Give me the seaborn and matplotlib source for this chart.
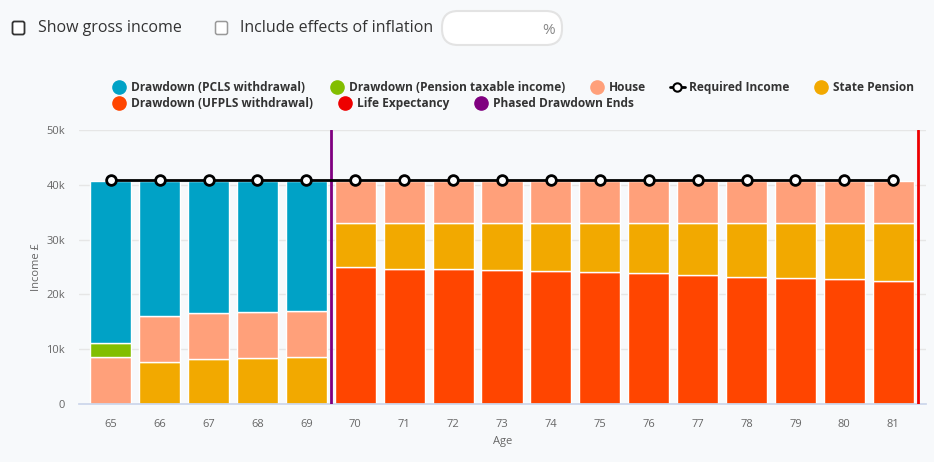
import numpy as np
import pandas as pd
import seaborn as sns
import matplotlib.pyplot as plt
from matplotlib.patches import FancyBboxPatch
from matplotlib.lines import Line2D

# values in thousands of pounds
ages = list(range(65, 82))
ufpls = [0, 0, 0, 0, 0, 24.95, 24.7, 24.6, 24.45, 24.2, 24.05, 23.85, 23.55, 23.25, 23.0, 22.75, 22.4]
state_pension = [0, 7.7, 8.15, 8.35, 8.5, 8.15, 8.4, 8.5, 8.65, 8.9, 9.05, 9.25, 9.55, 9.85, 10.1, 10.35, 10.7]
house = [8.6, 8.35, 8.45, 8.45, 8.4, 7.6, 7.6, 7.6, 7.6, 7.6, 7.6, 7.6, 7.6, 7.6, 7.6, 7.6, 7.6]
pension_taxable = [2.5, 0, 0, 0, 0, 0, 0, 0, 0, 0, 0, 0, 0, 0, 0, 0, 0]
pcls = [29.6, 24.65, 24.1, 23.9, 23.8, 0, 0, 0, 0, 0, 0, 0, 0, 0, 0, 0, 0]
required_income = [40.9] * 17
phased_drawdown_end_age = 69.5
life_expectancy_age = 81.5
y_ticks = [0, 10, 20, 30, 40, 50]
y_tick_labels = ["0", "10k", "20k", "30k", "40k", "50k"]

colors = {
    "Drawdown (UFPLS withdrawal)": "#FF4500",
    "State Pension": "#F2A900",
    "House": "#FFA07A",
    "Drawdown (Pension taxable income)": "#82BE00",
    "Drawdown (PCLS withdrawal)": "#00A2C6",
}

df = pd.DataFrame({
    "Age": ages,
    "Drawdown (UFPLS withdrawal)": ufpls,
    "State Pension": state_pension,
    "House": house,
    "Drawdown (Pension taxable income)": pension_taxable,
    "Drawdown (PCLS withdrawal)": pcls,
    "Required Income": required_income,
})
df["pos"] = np.arange(len(df))

sns.set_theme(style="white")
plt.rcParams["font.family"] = ["Open Sans", "DejaVu Sans"]

bg = "#F7F9FB"
fig = plt.figure(figsize=(9.34, 4.62), dpi=100, facecolor=bg)
ax = fig.add_axes([79 / 934, 1 - 404 / 462, (926 - 79) / 934, (404 - 130) / 462])
ax.set_facecolor(bg)

# stacked bars, bottom to top
bottom = np.zeros(len(df))
for col in colors:
    vals = df[col].to_numpy()
    mask = vals > 0
    ax.bar(df["pos"][mask], vals[mask], bottom=bottom[mask], width=0.84,
           color=colors[col], edgecolor="white", linewidth=1, zorder=2)
    bottom = bottom + vals

# required income line
sns.lineplot(data=df, x="pos", y="Required Income", ax=ax, color="black", linewidth=2,
             marker="o", markersize=7, markerfacecolor="white", markeredgecolor="black",
             markeredgewidth=2, zorder=4)

ax.axvline(phased_drawdown_end_age - ages[0], color="#800080", linewidth=2, zorder=3)
ax.axvline(life_expectancy_age - ages[0], color="#EE0000", linewidth=2, zorder=3)

ax.set_xlim(-0.65, 16.67)
ax.set_ylim(0, 50)
ax.set_xticks(df["pos"])
ax.set_xticklabels([str(a) for a in ages])
ax.set_yticks(y_ticks)
ax.set_yticklabels(y_tick_labels)
ax.yaxis.grid(True, color="#E6E6E6", linewidth=1, zorder=0)
ax.set_axisbelow(True)
for s in ["top", "right", "left"]:
    ax.spines[s].set_visible(False)
ax.spines["bottom"].set_color("#CCD6EB")
ax.tick_params(axis="x", colors="#666666", labelsize=8, length=8, width=1, color="#CCD6EB", pad=3)
ax.tick_params(axis="y", colors="#666666", labelsize=8, length=0, pad=10)
ax.set_xlabel("Age", color="#666666", fontsize=8, labelpad=4)
ax.set_ylabel("Income £", color="#666666", fontsize=8, labelpad=3)

# legend, two rows like the original
def dot(c):
    return Line2D([], [], marker="o", linestyle="none", markersize=9.5, markerfacecolor=c, markeredgecolor=c)

row1 = [
    (dot("#00A2C6"), "Drawdown (PCLS withdrawal)"),
    (dot("#82BE00"), "Drawdown (Pension taxable income)"),
    (dot("#FFA07A"), "House"),
    (Line2D([], [], color="black", linewidth=2, marker="o", markersize=6,
            markerfacecolor="white", markeredgecolor="black", markeredgewidth=1.5), "Required Income"),
    (dot("#F2A900"), "State Pension"),
]
row2 = [
    (dot("#FF4500"), "Drawdown (UFPLS withdrawal)"),
    (dot("#EE0000"), "Life Expectancy"),
    (dot("#800080"), "Phased Drawdown Ends"),
]
for row, ytop in [(row1, 1 - 81 / 462), (row2, 1 - 97 / 462)]:
    leg = fig.legend([h for h, _ in row], [l for _, l in row], loc="upper left",
                     bbox_to_anchor=(112 / 934, ytop), ncol=len(row), frameon=False,
                     prop={"weight": "bold", "size": 8.6}, handlelength=1.2,
                     handletextpad=0.4, columnspacing=2.05, borderaxespad=0, borderpad=0)
    for t in leg.get_texts():
        t.set_color("#333333")

# controls above the chart, drawn in pixel coordinates
ui = fig.add_axes([0, 0, 1, 1], zorder=-1)
ui.set_xlim(0, 934)
ui.set_ylim(462, 0)
ui.axis("off")
ui.add_patch(FancyBboxPatch((12.5, 21.5), 12, 13, boxstyle="round,pad=0,rounding_size=2",
                            facecolor="white", edgecolor="#333333", linewidth=1.3))
ui.text(38, 28, "Show gross income", fontsize=11.5, color="#333333", va="center")
ui.add_patch(FancyBboxPatch((215.5, 21.5), 12, 13, boxstyle="round,pad=0,rounding_size=2",
                            facecolor="white", edgecolor="#999999", linewidth=1.1))
ui.text(240, 28, "Include effects of inflation", fontsize=11.5, color="#333333", va="center")
ui.add_patch(FancyBboxPatch((442, 11), 120, 34, boxstyle="round,pad=0,rounding_size=16",
                            facecolor="white", edgecolor="#E3E3E3", linewidth=1.5))
ui.text(549, 30, "%", fontsize=11, color="#888888", va="center", ha="center")

fig.savefig("out.png", dpi=100, facecolor=bg)
